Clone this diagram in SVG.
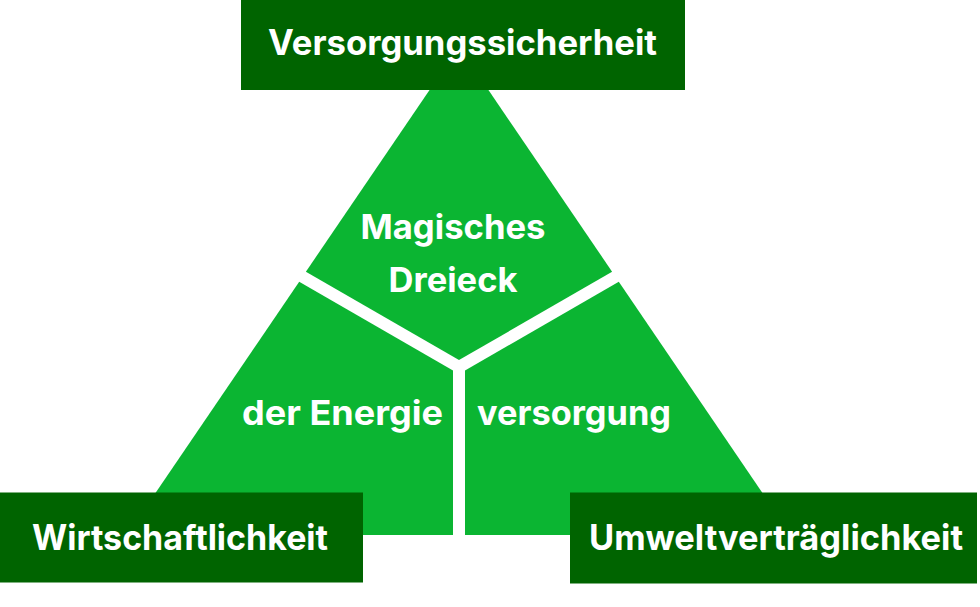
<svg xmlns="http://www.w3.org/2000/svg" width="980" height="607" viewBox="0 0 980 607">
<style>
.seg{fill:#0bb532;}
.box{fill:#006400;}
.t{font-family:Inter,"Liberation Sans",sans-serif;font-weight:700;fill:#ffffff;text-anchor:middle;}
.big{font-size:35px;}
.mid{font-size:34px;}
</style>
<rect width="980" height="607" fill="#ffffff"/>
<g id="triangle">
<g id="seg-top">
<polygon class="seg" points="430.9,88 487.1,88 612.1,271.7 459,360.1 305.9,271.7"/>
<text class="t mid" x="453" y="239" textLength="185" lengthAdjust="spacingAndGlyphs">Magisches</text>
<text class="t mid" x="453" y="291.5" textLength="129" lengthAdjust="spacingAndGlyphs">Dreieck</text>
</g>
<g id="seg-left">
<polygon class="seg" points="299.2,281.7 453,370.5 453,535 126.9,535"/>
<text class="t mid" x="342.5" y="425" textLength="201" lengthAdjust="spacingAndGlyphs">der Energie</text>
</g>
<g id="seg-right">
<polygon class="seg" points="618.8,281.7 465,370.5 465,535 791.1,535"/>
<text class="t mid" x="574" y="425" textLength="194" lengthAdjust="spacingAndGlyphs">versorgung</text>
</g>
</g>
<g id="node-versorgungssicherheit">
<rect class="box" x="241" y="0" width="444" height="90"/>
<text class="t big" x="462.5" y="54.5" textLength="389" lengthAdjust="spacingAndGlyphs">Versorgungssicherheit</text>
</g>
<g id="node-wirtschaftlichkeit">
<rect class="box" x="0" y="492.5" width="363" height="90"/>
<text class="t big" x="180" y="550" textLength="296" lengthAdjust="spacingAndGlyphs">Wirtschaftlichkeit</text>
</g>
<g id="node-umweltvertraeglichkeit">
<rect class="box" x="570" y="492.5" width="407" height="91"/>
<text class="t big" x="776" y="550" textLength="374" lengthAdjust="spacingAndGlyphs">Umweltverträglichkeit</text>
</g>
</svg>
